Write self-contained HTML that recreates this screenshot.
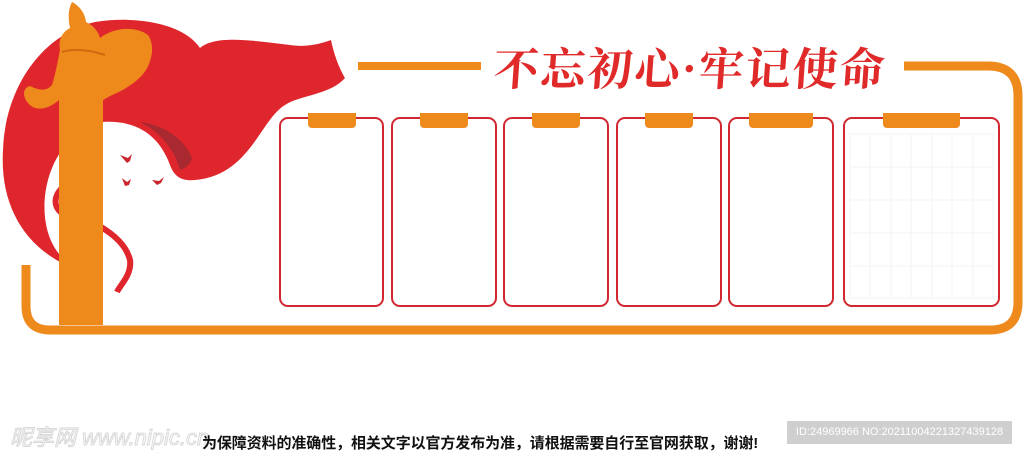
<!DOCTYPE html>
<html><head><meta charset="utf-8"><style>
html,body{margin:0;padding:0;background:#fff;}
body{width:1024px;height:452px;position:relative;overflow:hidden;font-family:"Liberation Sans","Noto Sans CJK SC",sans-serif;}
.card{position:absolute;top:117px;border:2.5px solid #d0282e;border-radius:9px;box-sizing:border-box;height:190px;}
.tab{position:absolute;top:113px;height:15px;background:#ee8a1c;border-radius:0 0 4px 4px;}
.title{position:absolute;left:494px;top:36px;font-family:"Noto Serif CJK SC",serif;font-weight:bold;font-size:45px;color:#e02a2a;letter-spacing:2px;white-space:nowrap;line-height:60px;transform:skewX(-4deg);}
.foot{position:absolute;left:202px;top:432px;font-size:15px;font-weight:bold;color:#111;white-space:nowrap;letter-spacing:-0.1px;}
.id{position:absolute;left:787px;top:421px;width:225px;height:23px;background:#cfcfcf;color:#fff;font-size:11px;line-height:23px;text-align:center;white-space:nowrap;}
.wm{position:absolute;left:10px;top:420px;font-size:22px;color:#fff;-webkit-text-stroke:1px #d8d8d8;white-space:nowrap;font-style:italic;}
</style></head><body>
<svg width="1024" height="452" style="position:absolute;left:0;top:0">
  <path d="M26,265 V306 Q26,330 50,330 H990 Q1018,330 1018,302 V96 Q1018,66 988,66 H904" fill="none" stroke="#ee8a1c" stroke-width="9"/>
  <line x1="358" y1="66" x2="481" y2="66" stroke="#ee8a1c" stroke-width="8"/>
  <path d="M60,262 C20,240 0,200 3,150 C5,90 40,35 95,22 C140,15 185,25 200,48 C215,35 250,40 290,45 C310,48 325,42 331,40 C334,55 340,70 345,78 C330,95 300,95 285,105 C260,120 250,175 195,180 C175,182 172,170 168,160 C155,130 130,120 102,122 L62,150 C40,180 38,230 60,255 Z" fill="#e0262d"/>
  <path d="M140,122 C165,125 185,140 192,158 C190,165 186,168 180,170 C175,150 160,132 140,122 Z" fill="#a82a30"/>
  <path d="M62,188 C50,200 55,215 75,218 C100,222 125,240 130,260 C132,275 120,285 117,292" fill="none" stroke="#e0262d" stroke-width="6"/>
  <rect x="59" y="100" width="44" height="225" fill="#ee8a1c"/>
  <path d="M72,2 C78,5 85,12 86,22 C92,25 98,30 100,38 C112,28 135,25 148,35 C155,45 152,60 146,70 C140,80 125,90 110,96 L103,100 L59,100 C50,108 38,112 30,105 C22,98 22,88 30,86 C38,90 46,92 52,85 C56,72 58,60 60,50 C58,40 62,32 70,28 C68,18 68,10 72,2 Z" fill="#ee8a1c"/>
  <path d="M62,52 C75,48 90,50 105,55" fill="none" stroke="#d06a10" stroke-width="2"/>
  <g fill="#c8262c"><path d="M120,155 l8,3 l4,-4 l-2,7 l-3,2 z"/><path d="M122,178 l5,4 l4,-3 l-2,6 l-4,1 z"/><path d="M152,180 l7,1 l5,-4 l-3,6 l-4,2 z"/></g>
  <g stroke="#f3f3f3" stroke-width="1" fill="none">
    <rect x="850" y="134" width="143" height="164"/>
    <line x1="870" y1="134" x2="870" y2="298"/><line x1="891" y1="134" x2="891" y2="298"/><line x1="911" y1="134" x2="911" y2="298"/><line x1="932" y1="134" x2="932" y2="298"/><line x1="952" y1="134" x2="952" y2="298"/><line x1="973" y1="134" x2="973" y2="298"/>
    <line x1="850" y1="167" x2="993" y2="167"/><line x1="850" y1="200" x2="993" y2="200"/><line x1="850" y1="233" x2="993" y2="233"/><line x1="850" y1="266" x2="993" y2="266"/>
  </g>
</svg>
<div class="card" style="left:279px;width:105px"></div>
<div class="card" style="left:391px;width:106px"></div>
<div class="card" style="left:503px;width:106px"></div>
<div class="card" style="left:616px;width:106px"></div>
<div class="card" style="left:728px;width:106px"></div>
<div class="card" style="left:843px;width:157px"></div>
<div class="tab" style="left:308px;width:48px"></div>
<div class="tab" style="left:420px;width:48px"></div>
<div class="tab" style="left:532px;width:48px"></div>
<div class="tab" style="left:645px;width:48px"></div>
<div class="tab" style="left:749px;width:64px"></div>
<div class="tab" style="left:883px;width:77px"></div>
<div class="title">不忘初心·牢记使命</div>
<div class="wm">昵享网 www.nipic.cn</div>
<div class="foot">为保障资料的准确性，相关文字以官方发布为准，请根据需要自行至官网获取，谢谢!</div>
<div class="id">ID:24969966 NO:20211004221327439128</div>
</body></html>
